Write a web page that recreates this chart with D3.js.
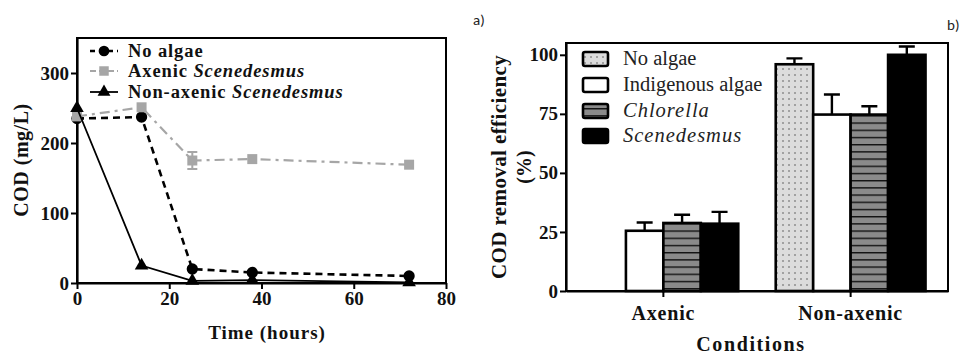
<!DOCTYPE html>
<html>
<head>
<meta charset="utf-8">
<script src="https://cdn.jsdelivr.net/npm/d3@7"></script>
<style>
  body { margin: 0; background: #fff; }
</style>
</head>
<body>
<div id="chart"></div>
<script>
// panel a) COD over time
const timePoints = [0, 14, 25, 38, 72];
const codNoAlgae = [235, 237, 20, 15, 10];
const codAxenic = [238, 251, 175, 177, 169];
const codAxenicErr = [0, 0, 12, 0, 0];
const codNonAxenic = [250, 25, 3, 4, 1];
const timeTicks = [0, 20, 40, 60, 80];
const codTicks = [0, 100, 200, 300];

// panel b) removal efficiency
const conditions = ["Axenic", "Non-axenic"];
const treatments = ["No algae", "Indigenous algae", "Chlorella", "Scenedesmus"];
const removalAxenic = [null, 25.5, 28.8, 28.5];
const removalAxenicErr = [null, 3.5, 3.5, 5];
const removalNonAxenic = [96, 74.7, 74.7, 100];
const removalNonAxenicErr = [2.5, 8.5, 3.5, 3.5];
const removalTicks = [0, 25, 50, 75, 100];

const serif = "'Liberation Serif', 'Times New Roman', serif";
const width = 963, height = 357;
const svg = d3.select("#chart").append("svg")
  .attr("width", width).attr("height", height);

const defs = svg.append("defs");
const dots = defs.append("pattern").attr("id", "dots")
  .attr("patternUnits", "userSpaceOnUse").attr("width", 6).attr("height", 6);
dots.append("rect").attr("width", 6).attr("height", 6).attr("fill", "#dcdcdc");
dots.append("circle").attr("cx", 3).attr("cy", 3).attr("r", 0.8).attr("fill", "#555");
const stripes = defs.append("pattern").attr("id", "stripes")
  .attr("patternUnits", "userSpaceOnUse").attr("width", 8).attr("height", 7.2);
stripes.append("rect").attr("width", 8).attr("height", 7.2).attr("fill", "#8a8a8a");
stripes.append("rect").attr("y", 0).attr("width", 8).attr("height", 1.4).attr("fill", "#111");

function styleAxis(g) {
  g.attr("font-family", serif);
  g.select(".domain").attr("stroke", "#000").attr("stroke-width", 2.2);
  g.selectAll(".tick line").attr("stroke", "#000").attr("stroke-width", 2);
  g.selectAll(".tick text")
    .attr("fill", "#111")
    .style("font-family", serif)
    .style("font-size", "19px")
    .style("font-weight", "bold");
}

function boldText(sel, size) {
  return sel.style("font-family", serif).style("font-size", size + "px")
    .style("font-weight", "bold").attr("fill", "#111");
}

// ---------- panel a ----------
const xA = d3.scaleLinear().domain([0, 80]).range([77, 446]);
const yA = d3.scaleLinear().domain([0, 350]).range([283, 38]);

const a = svg.append("g");
a.append("rect")
  .attr("x", xA(0)).attr("y", yA(350))
  .attr("width", xA(80) - xA(0)).attr("height", yA(0) - yA(350))
  .attr("fill", "none").attr("stroke", "#000").attr("stroke-width", 2);

a.append("g").attr("transform", `translate(0,${yA(0)})`)
  .call(d3.axisBottom(xA).tickValues(timeTicks).tickSize(6).tickPadding(3).tickSizeOuter(0))
  .call(styleAxis);
a.append("g").attr("transform", `translate(${xA(0)},0)`)
  .call(d3.axisLeft(yA).tickValues(codTicks).tickSize(6).tickPadding(2).tickSizeOuter(0))
  .call(styleAxis);

const seriesA = [
  { name: "No algae", values: codNoAlgae, err: null, color: "#000", width: 2.6, dash: "7,5", marker: "circle" },
  { name: "Axenic", values: codAxenic, err: codAxenicErr, color: "#a6a6a6", width: 2.2, dash: "10,5,3,5", marker: "square" },
  { name: "Non-axenic", values: codNonAxenic, err: null, color: "#000", width: 1.8, dash: null, marker: "triangle" }
];

const lineA = d3.line().x(d => xA(d.t)).y(d => yA(d.v));
const symbolFor = { circle: d3.symbolCircle, square: d3.symbolSquare, triangle: d3.symbolTriangle };
const sizeFor = { circle: 100, square: 100, triangle: 80 };

seriesA.forEach(s => {
  const pts = timePoints.map((t, i) => ({ t, v: s.values[i], e: s.err ? s.err[i] : 0 }));
  a.append("path").datum(pts)
    .attr("d", lineA)
    .attr("fill", "none")
    .attr("stroke", s.color)
    .attr("stroke-width", s.width)
    .attr("stroke-dasharray", s.dash);
  const eb = pts.filter(d => d.e > 0);
  a.selectAll(null).data(eb).enter().append("path")
    .attr("d", d => `M${xA(d.t)},${yA(d.v - d.e)}V${yA(d.v + d.e)}M${xA(d.t) - 5},${yA(d.v - d.e)}h10M${xA(d.t) - 5},${yA(d.v + d.e)}h10`)
    .attr("stroke", s.color).attr("stroke-width", 2).attr("fill", "none");
  a.selectAll(null).data(pts).enter().append("path")
    .attr("transform", d => `translate(${xA(d.t)},${yA(d.v)})`)
    .attr("d", d3.symbol().type(symbolFor[s.marker]).size(sizeFor[s.marker]))
    .attr("fill", s.color);
});

// legend a
const legA = a.append("g");
const legALabels = [
  [{ t: "No algae", i: false }],
  [{ t: "Axenic ", i: false }, { t: "Scenedesmus", i: true }],
  [{ t: "Non-axenic ", i: false }, { t: "Scenedesmus", i: true }]
];
[51, 71, 92].forEach((y, k) => {
  const s = seriesA[k];
  legA.append("line")
    .attr("x1", 90).attr("x2", 118).attr("y1", y).attr("y2", y)
    .attr("stroke", s.color).attr("stroke-width", s.width)
    .attr("stroke-dasharray", k === 0 ? "5,4" : (k === 1 ? "6,3" : null));
  legA.append("path")
    .attr("transform", `translate(104,${y})`)
    .attr("d", d3.symbol().type(symbolFor[s.marker]).size(sizeFor[s.marker] * 0.9))
    .attr("fill", s.color);
  const txt = boldText(legA.append("text"), 18.5)
    .attr("x", 128).attr("y", y + 6)
    .style("letter-spacing", "0.9px");
  legALabels[k].forEach(p => txt.append("tspan").text(p.t).style("font-style", p.i ? "italic" : "normal"));
});

boldText(a.append("text"), 20)
  .attr("transform", `translate(28,160) rotate(-90)`)
  .attr("text-anchor", "middle")
  .style("letter-spacing", "0.5px")
  .text("COD (mg/L)");
boldText(a.append("text"), 19)
  .attr("x", 267).attr("y", 339)
  .attr("text-anchor", "middle")
  .style("letter-spacing", "1px")
  .text("Time (hours)");
svg.append("text").attr("x", 473).attr("y", 25)
  .style("font-family", "Carlito, 'Liberation Sans', sans-serif").style("font-size", "15px")
  .attr("fill", "#222").text("a)");

// ---------- panel b ----------
const xB = d3.scaleBand().domain(conditions).range([566, 948]).paddingInner(0.2).paddingOuter(0.12);
const xSub = d3.scaleBand().domain(treatments).range([0, xB.bandwidth()]);
const yB = d3.scaleLinear().domain([0, 105]).range([291, 43]);

const b = svg.append("g");
b.append("rect")
  .attr("x", 566).attr("y", yB(105))
  .attr("width", 948 - 566).attr("height", yB(0) - yB(105))
  .attr("fill", "none").attr("stroke", "#000").attr("stroke-width", 2);

const fills = { "No algae": "url(#dots)", "Indigenous algae": "#fff", "Chlorella": "url(#stripes)", "Scenedesmus": "#000" };

const barData = [];
conditions.forEach((c, ci) => {
  const vals = ci === 0 ? removalAxenic : removalNonAxenic;
  const errs = ci === 0 ? removalAxenicErr : removalNonAxenicErr;
  treatments.forEach((t, ti) => {
    if (vals[ti] != null) barData.push({ c, t, v: vals[ti], e: errs[ti] });
  });
});

// error bars (drawn before bars so the stem starts at the bar top)
b.selectAll(".err").data(barData).enter().append("path")
  .attr("class", "err")
  .attr("d", d => {
    const cx = xB(d.c) + xSub(d.t) + xSub.bandwidth() / 2;
    return `M${cx},${yB(d.v)}V${yB(d.v + d.e)}M${cx - 8},${yB(d.v + d.e)}h16`;
  })
  .attr("stroke", "#000").attr("stroke-width", 2.4).attr("fill", "none");

b.selectAll(".bar").data(barData).enter().append("rect")
  .attr("class", "bar")
  .attr("x", d => xB(d.c) + xSub(d.t))
  .attr("y", d => yB(d.v))
  .attr("width", xSub.bandwidth())
  .attr("height", d => yB(0) - yB(d.v))
  .attr("fill", d => fills[d.t])
  .attr("stroke", "#000").attr("stroke-width", 2.6);

b.append("g").attr("transform", `translate(0,${yB(0)})`)
  .call(d3.axisBottom(xB).tickSize(6).tickPadding(9).tickSizeOuter(0))
  .call(styleAxis)
  .selectAll(".tick text").style("font-size", "20px").style("letter-spacing", "0.8px");
b.append("g").attr("transform", `translate(566,0)`)
  .call(d3.axisLeft(yB).tickValues(removalTicks).tickSize(6).tickPadding(2).tickSizeOuter(0))
  .call(styleAxis);

// legend b
const legB = b.append("g");
[59, 85, 111, 136].forEach((y, k) => {
  const t = treatments[k];
  legB.append("rect")
    .attr("x", 583).attr("y", y - 7).attr("width", 25).attr("height", 14).attr("rx", 2)
    .attr("fill", fills[t]).attr("stroke", "#000").attr("stroke-width", 2.6);
  legB.append("text")
    .attr("x", 623).attr("y", y + 6)
    .style("font-family", serif)
    .style("font-size", "20.5px").attr("fill", "#222")
    .style("font-style", k >= 2 ? "italic" : "normal")
    .style("letter-spacing", k >= 2 ? "1px" : "0px")
    .text(t);
});

boldText(b.append("text"), 21)
  .attr("transform", `translate(506,167) rotate(-90)`)
  .attr("text-anchor", "middle")
  .style("letter-spacing", "0.4px")
  .text("COD removal efficiency");
boldText(b.append("text"), 20)
  .attr("transform", `translate(531,167) rotate(-90)`)
  .attr("text-anchor", "middle")
  .text("(%)");
boldText(b.append("text"), 20)
  .attr("x", 751).attr("y", 351)
  .attr("text-anchor", "middle")
  .style("letter-spacing", "1.6px")
  .text("Conditions");
svg.append("text").attr("x", 947).attr("y", 30)
  .style("font-family", "Carlito, 'Liberation Sans', sans-serif").style("font-size", "15px")
  .attr("fill", "#222").text("b)");
</script>
</body>
</html>
